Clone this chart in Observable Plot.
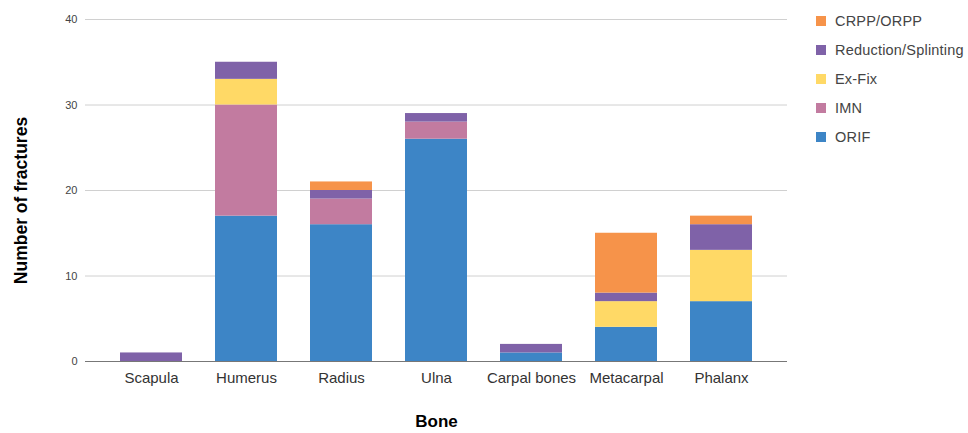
<!DOCTYPE html>
<html>
<head>
<meta charset="utf-8">
<script src="https://cdn.jsdelivr.net/npm/d3@7"></script>
<script src="https://cdn.jsdelivr.net/npm/@observablehq/plot@0.6"></script>
<style>
  html, body { margin: 0; padding: 0; background: #fff; }
  #wrap { position: relative; width: 968px; height: 433px; overflow: hidden; font-family: "Liberation Sans", Arial, sans-serif; }
  #chart { position: absolute; left: 0; top: 0; }
  #legend { position: absolute; left: 816px; top: 6px; }
  .item { display: flex; align-items: center; height: 29px; font-size: 14.5px; color: #444; white-space: nowrap; letter-spacing: 0.2px; }
  .swatch { width: 10px; height: 10px; margin-right: 9px; }
</style>
</head>
<body>
<div id="wrap">
  <div id="chart"></div>
  <div id="legend"></div>
</div>
<script>
// Fractures by bone, split by treatment method
const bones = ["Scapula", "Humerus", "Radius", "Ulna", "Carpal bones", "Metacarpal", "Phalanx"];
const methods = ["ORIF", "IMN", "Ex-Fix", "Reduction/Splinting", "CRPP/ORPP"]; // bottom to top
const methodColors = ["#3d85c6", "#c27ba0", "#ffd966", "#7f62a8", "#f6934a"];

const orif      = [0, 17, 16, 26, 1, 4, 7];
const imn       = [0, 13, 3, 2, 0, 0, 0];
const exFix     = [0, 3, 0, 0, 0, 3, 6];
const reduction = [1, 2, 1, 1, 1, 1, 3];
const crpp      = [0, 0, 1, 0, 0, 7, 1];

const yTicks = [0, 10, 20, 30, 40];

const series = [orif, imn, exFix, reduction, crpp];
const rows = [];
bones.forEach((bone, i) => {
  methods.forEach((method, j) => {
    rows.push({bone, method, count: series[j][i]});
  });
});

const chart = Plot.plot({
  width: 800,
  height: 433,
  marginLeft: 85,
  marginRight: 13,
  marginTop: 19,
  marginBottom: 72,
  style: {fontFamily: "Liberation Sans, Arial, sans-serif", background: "transparent"},
  x: {domain: bones, padding: 0.35, label: null},
  y: {domain: [0, 40], label: null},
  color: {domain: methods, range: methodColors},
  marks: [
    Plot.gridY(yTicks, {stroke: "#d0d0d0", strokeOpacity: 1}),
    Plot.axisY(yTicks, {tickSize: 0, tickPadding: 8, fontSize: 11, fill: "#444", label: null}),
    Plot.axisX({tickSize: 0, tickPadding: 11, fontSize: 15, fill: "#333", label: null}),
    Plot.barY(rows, {x: "bone", y: "count", fill: "method", order: methods}),
    Plot.ruleY([0], {stroke: "#777", strokeWidth: 1}),
    Plot.text(["Bone"], {frameAnchor: "bottom", dy: 65, fontSize: 17, fontWeight: "bold", fill: "#000"}),
    Plot.text(["Number of fractures"], {frameAnchor: "left", dx: -64, dy: 10, rotate: -90, textAnchor: "middle", fontSize: 17.5, fontWeight: "bold", fill: "#000", letterSpacing: "0.6px"})
  ]
});
document.getElementById("chart").appendChild(chart);

// Legend, top entry = top of the stack
const legend = document.getElementById("legend");
methods.slice().reverse().forEach(m => {
  const item = document.createElement("div");
  item.className = "item";
  const sw = document.createElement("span");
  sw.className = "swatch";
  sw.style.background = methodColors[methods.indexOf(m)];
  const label = document.createElement("span");
  label.textContent = m;
  item.appendChild(sw);
  item.appendChild(label);
  legend.appendChild(item);
});
</script>
</body>
</html>
